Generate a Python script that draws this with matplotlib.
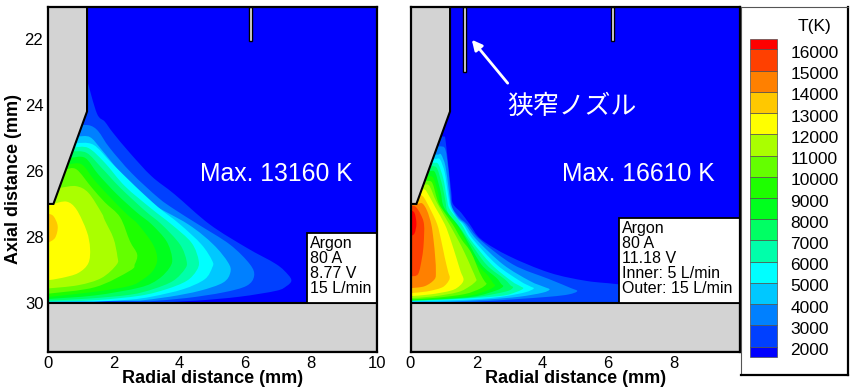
import matplotlib
matplotlib.use("Agg")
import matplotlib.pyplot as plt
from matplotlib.path import Path
from matplotlib.patches import PathPatch
import numpy as np

plt.rcParams['font.family'] = ['Liberation Sans', 'DejaVu Sans']

# temperature levels and band colours (lowest band first)
levels = [2000, 3000, 4000, 5000, 6000, 7000, 8000, 9000, 10000, 11000, 12000, 13000, 14000, 15000, 16000]
band_colors = ['#0000ff', '#0040ff', '#0080ff', '#00c8ff', '#00ffff', '#00ffaa', '#00ff64', '#00ff1e',
               '#1eff00', '#64ff00', '#aaff00', '#ffff00', '#ffc800', '#ff8000', '#ff4000', '#ff0000']

# nozzle wall outline
nozzle_r = [0, 1.2, 1.2, 0.18, 0]
nozzle_z = [21, 21, 24.19, 27, 27]

# isotherms (r, z) in mm
left_2000 = [(1.2,23.23),(1.5,24.25),(1.74,24.5),(1.99,24.84),(2.5,25.45),(3.16,26.16),(3.86,26.71),(4.92,27.62),(6.04,28.33),(6.94,28.83),(7.3,29.15),(7.4,29.34),(7.25,29.5),(6.94,29.64),(5.83,29.82),(4.52,29.94),(3.3,30)]
left_3000 = [(1.03,24.6),(1.3,24.62),(1.54,24.79),(1.89,25.3),(2.55,26.06),(3.36,26.81),(3.86,27.17),(4.57,27.62),(5.53,28.23),(6.14,28.83),(6.27,29.19),(6.04,29.49),(5.33,29.69),(4.22,29.86),(3.1,29.96)]
left_4000 = [(0.93,24.95),(1.29,24.97),(1.64,25.35),(2.3,26.16),(2.95,26.86),(4.27,27.62),(5.03,28.23),(5.48,28.78),(5.55,29.08),(5.33,29.39),(4.62,29.64),(3.71,29.82),(2.8,29.94)]
left_5000 = [(0.85,25.15),(1.39,25.2),(1.94,25.75),(2.65,26.45),(3.36,27.1),(4.02,27.62),(4.67,28.23),(5.0,28.73),(5.0,28.93),(4.77,29.29),(4.12,29.59),(3.2,29.81),(2.5,29.91),(1.4,29.97)]
left_6000 = [(0.8,25.28),(1.24,25.3),(1.74,25.75),(2.35,26.46),(3.16,27.15),(3.76,27.62),(4.37,28.18),(4.59,28.73),(4.52,29.03),(4.22,29.34),(3.61,29.59),(2.8,29.79),(1.4,29.93),(0,29.97)]
left_7000 = [(0.76,25.4),(1.19,25.45),(1.64,25.9),(2.2,26.5),(2.95,27.2),(3.46,27.62),(4.02,28.23),(4.22,28.73),(4.17,28.98),(3.81,29.34),(3.2,29.59),(2.5,29.76),(1.2,29.88),(0,29.94)]
left_8000 = [(0.7,25.6),(1.14,25.6),(1.54,26.1),(2.1,26.7),(2.7,27.25),(3.16,27.62),(3.61,28.13),(3.78,28.63),(3.71,28.93),(3.36,29.29),(2.8,29.54),(1.44,29.78),(0,29.89)]
left_9000 = [(0.62,25.8),(1.04,25.8),(1.44,26.3),(2,26.9),(2.45,27.35),(2.75,27.62),(3.2,28.23),(3.33,28.68),(3.2,29.03),(2.9,29.29),(2.5,29.49),(1.44,29.67),(0,29.83)]
left_10000 = [(0.55,25.95),(0.88,25.95),(1.34,26.5),(1.74,26.95),(2.2,27.4),(2.5,28.13),(2.72,28.53),(2.65,28.83),(2.5,29.03),(1.44,29.53),(0,29.73)]
left_11000 = [(0.45,26.5),(0.87,26.46),(1.24,26.66),(1.64,27.27),(1.74,27.5),(2.0,28.04),(2.12,28.59),(2.1,28.84),(1.64,29.25),(0.93,29.47),(0,29.57)]
left_12000 = [(0.18,27),(0.58,26.93),(0.88,27.17),(1.19,27.83),(1.29,28.34),(1.24,28.8),(0.93,29.1),(0.43,29.25),(0,29.32)]
left_13000 = [(0,27.29),(0.18,27.37),(0.31,27.68),(0.23,28.03),(0,28.19)]

# isotherms
right_2000 = [(1.03,24.95),(1.06,25.04),(1.14,25.75),(1.24,26.66),(1.29,27),(1.54,27.27),(1.8,27.62),(2.15,28.08),(3.0,28.59),(4.22,29.09),(5.34,29.34),(6.4,29.46),(7.2,29.7),(6.4,29.97),(4.5,29.98)]
right_3000 = [(0.93,25.25),(1.06,25.35),(1.16,26.05),(1.22,26.76),(1.27,27.11),(1.49,27.42),(1.72,27.62),(2.1,28.08),(3.11,28.84),(4.22,29.29),(4.85,29.55),(5.06,29.65),(4.8,29.75),(4.22,29.82),(3.11,29.9),(2,29.97),(0.8,30)]
right_4000 = [(0.85,25.5),(0.93,25.5),(1.06,25.85),(1.16,26.56),(1.24,27.06),(1.44,27.42),(1.66,27.62),(2,28.08),(2.81,28.84),(3.62,29.34),(4.05,29.52),(4.22,29.6),(4,29.7),(3.3,29.82),(2.4,29.9),(1.2,29.97),(0.6,29.98)]
right_5000 = [(0.78,25.63),(0.9,25.65),(1.04,26.05),(1.14,26.71),(1.22,27.11),(1.42,27.45),(1.6,27.62),(1.9,28.08),(2.61,28.84),(3.32,29.34),(3.62,29.5),(3.74,29.57),(3.5,29.68),(2.9,29.8),(2.2,29.88),(1.2,29.93),(0,29.96)]
right_6000 = [(0.73,25.75),(0.85,25.8),(1.0,26.25),(1.1,26.81),(1.19,27.16),(1.55,27.62),(1.82,28.08),(2.46,28.84),(3.06,29.34),(3.33,29.5),(3.42,29.57),(3.2,29.68),(2.7,29.8),(1.1,29.91),(0,29.95)]
right_7000 = [(0.68,25.85),(0.81,25.93),(0.97,26.46),(1.06,26.91),(1.14,27.27),(1.5,27.72),(1.75,28.08),(2.3,28.84),(2.86,29.29),(3.03,29.47),(3.11,29.54),(2.9,29.66),(2,29.83),(1,29.9),(0,29.94)]
right_8000 = [(0.61,26),(0.75,26.05),(0.91,26.61),(1.02,27.11),(1.44,27.65),(1.7,28.08),(2.15,28.84),(2.6,29.24),(2.75,29.43),(2.81,29.51),(2.6,29.63),(1.95,29.81),(1,29.89),(0,29.93)]
right_9000 = [(0.55,26.15),(0.7,26.22),(0.85,26.71),(0.95,27.11),(1.37,27.62),(1.65,28.08),(2.0,28.79),(2.36,29.19),(2.5,29.4),(2.56,29.49),(2.35,29.62),(1.84,29.78),(1,29.87),(0,29.92)]
right_10000 = [(0.51,26.3),(0.66,26.36),(0.81,26.86),(0.92,27.1),(1.28,27.62),(1.55,28.08),(1.84,28.48),(2.1,29.09),(2.25,29.35),(2.3,29.44),(2.1,29.58),(1.64,29.74),(0.8,29.85),(0,29.9)]
right_11000 = [(0.45,26.41),(0.58,26.46),(0.8,26.96),(1.18,27.62),(1.42,28.05),(1.64,28.48),(1.85,28.95),(1.98,29.25),(1.99,29.34),(1.8,29.5),(1.44,29.68),(0.7,29.81),(0,29.86)]
right_12000 = [(0.38,26.56),(0.48,26.61),(0.75,27.1),(1.04,27.62),(1.22,28.1),(1.39,28.63),(1.52,29.05),(1.61,29.3),(1.5,29.48),(1.24,29.63),(0.6,29.75),(0,29.8)]
right_13000 = [(0.28,26.71),(0.41,26.81),(0.62,27.2),(0.81,27.62),(0.93,28.1),(1.04,28.63),(1.14,29.05),(1.19,29.25),(1.1,29.42),(0.93,29.55),(0.5,29.66),(0,29.71)]
right_14000 = [(0.18,27.02),(0.35,26.98),(0.5,27.2),(0.63,27.62),(0.7,28.1),(0.75,28.63),(0.77,29.05),(0.73,29.29),(0.43,29.5),(0,29.56)]
right_15000 = [(0,27.06),(0.15,27.08),(0.3,27.3),(0.41,27.62),(0.4,28.2),(0.35,28.63),(0.23,29.13),(0,29.2)]
right_16000 = [(0,27.2),(0.12,27.27),(0.18,27.6),(0.12,27.9),(0,27.97)]

left_isotherms = [left_2000, left_3000, left_4000, left_5000, left_6000, left_7000, left_8000,
                  left_9000, left_10000, left_11000, left_12000, left_13000]
right_isotherms = [right_2000, right_3000, right_4000, right_5000, right_6000, right_7000, right_8000,
                   right_9000, right_10000, right_11000, right_12000, right_13000, right_14000,
                   right_15000, right_16000]

fig = plt.figure(figsize=(8.6, 3.9), dpi=100)
W, H = 860.0, 390.0


def iso_patch(iso, color):
    # smooth curve through the read points, closed along the axis
    p = np.array(iso, dtype=float)
    q = np.vstack([p[0], p, p[-1]])
    verts = [tuple(p[0])]
    codes = [Path.MOVETO]
    for i in range(1, len(q) - 2):
        c1 = q[i] + (q[i + 1] - q[i - 1]) / 6
        c2 = q[i + 1] - (q[i + 2] - q[i]) / 6
        verts += [tuple(c1), tuple(c2), tuple(q[i + 1])]
        codes += [Path.CURVE4] * 3
    verts += [(0, p[-1, 1]), (0, p[0, 1]), tuple(p[0])]
    codes += [Path.LINETO, Path.LINETO, Path.CLOSEPOLY]
    return PathPatch(Path(verts, codes), facecolor=color, lw=0, zorder=2)


def panel(x0, x1, isotherms, probes, tick_r, show_y, box, box_lines, max_text):
    ax = fig.add_axes([x0 / W, 1 - 352 / H, (x1 - x0) / W, 345.5 / H])
    ax.set_facecolor(band_colors[0])
    for i, iso in enumerate(isotherms):
        ax.add_patch(iso_patch(iso, band_colors[i + 1]))
    ax.fill(nozzle_r, nozzle_z, facecolor='#d3d3d3', edgecolor='black', lw=1.5, zorder=3)
    ax.fill([0, 10, 10, 0], [30, 30, 31.5, 31.5], facecolor='#d3d3d3', edgecolor='black', lw=1.5, zorder=3)
    for pr, pz in probes:
        ax.fill([pr - 0.045, pr + 0.045, pr + 0.045, pr - 0.045], [21, 21, pz, pz],
                facecolor='#f0f0f0', edgecolor='black', lw=1, zorder=3)
    ax.set_xlim(0, 10)
    ax.set_ylim(31.5, 21)
    ax.set_xticks(tick_r)
    ax.set_xticks([i * 0.5 for i in range(21)], minor=True)
    ax.set_yticks([22, 24, 26, 28, 30])
    ax.set_yticks([21.5 + i * 0.5 for i in range(20)], minor=True)
    ax.tick_params(which='major', direction='in', length=7, width=1.3, labelsize=12, pad=3,
                   labelleft=show_y, colors='black')
    ax.tick_params(which='minor', direction='in', length=4, width=0.7, color='#555555')
    for s in ax.spines.values():
        s.set_linewidth(1.6)
        s.set_zorder(6)
    ax.set_xlabel('Radial distance (mm)', fontsize=13, fontweight='bold', labelpad=-1)
    ax.fill([box[0], 10, 10, box[0]], [box[1], box[1], 30, 30], facecolor='white', edgecolor='black',
            lw=1.3, zorder=4)
    ax.text(box[0] + 0.1, box[1] + 0.1, box_lines, fontsize=11.5, va='top', ha='left',
            linespacing=1.0, zorder=5)
    ax.text(max_text[0], max_text[1], max_text[2], color='white', fontsize=17.8, ha='left', va='center', zorder=5)
    for t in ax.xaxis.get_major_ticks() + ax.yaxis.get_major_ticks():
        t.tick1line.set_zorder(5)
    return ax


ax1 = panel(47.5, 377, left_isotherms, [(6.15, 22.04)], [0, 2, 4, 6, 8, 10], True,
            (7.87, 27.88), 'Argon\n80 A\n8.77 V\n15 L/min', (4.62, 26.1, 'Max. 13160 K'))
ax1.set_ylabel('Axial distance (mm)', fontsize=13, fontweight='bold', labelpad=2)

ax2 = panel(410.5, 740, right_isotherms, [(1.63, 22.98), (6.14, 22.04)], [0, 2, 4, 6, 8], False,
            (6.33, 27.43), 'Argon\n80 A\n11.18 V\nInner: 5 L/min\nOuter: 15 L/min', (4.6, 26.1, 'Max. 16610 K'))
ax2.annotate('', xy=(1.86, 22.01), xytext=(2.95, 23.33), zorder=5,
             arrowprops=dict(arrowstyle='-|>,head_width=0.3,head_length=0.6', color='white', lw=2,
                             shrinkA=0, shrinkB=0))
ax2.text(2.93, 24.04, '狭窄ノズル', color='white', fontsize=18.6, ha='left', va='center',
         family=['Noto Sans CJK JP'], zorder=5)

# legend panel, 21.24 px per 1000 K with the 16000 boundary at pixel 49.3
leg = fig.add_axes([741 / W, 1 - 375 / H, 107 / W, 368 / H])
leg.set_xticks([])
leg.set_yticks([])
leg.set_xlim(741, 848)
leg.set_ylim(16000 - (375 - 49.3) / 21.24 * 1000, 16000 + (49.3 - 7) / 21.24 * 1000)
leg_bottoms = [1500] + levels
leg_heights = [500] + [1000] * 14 + [500]
leg.bar([763.5] * 16, leg_heights, width=27, bottom=leg_bottoms, color=band_colors,
        edgecolor='#505050', linewidth=0.5, align='center')
for v in levels:
    leg.text(790.5, v - 190, str(v), fontsize=12.5, ha='left', va='center')
leg.text(814.5, 16000 + 1090, 'T(K)', fontsize=12.5, ha='center', va='center')
leg.spines['top'].set_linewidth(0.8)
leg.spines['left'].set_linewidth(0.8)
leg.spines['right'].set_linewidth(1.6)
leg.spines['bottom'].set_linewidth(1.6)
leg.spines['top'].set_color('#555555')
leg.spines['left'].set_color('#555555')

fig.savefig('out.png', dpi=100)
